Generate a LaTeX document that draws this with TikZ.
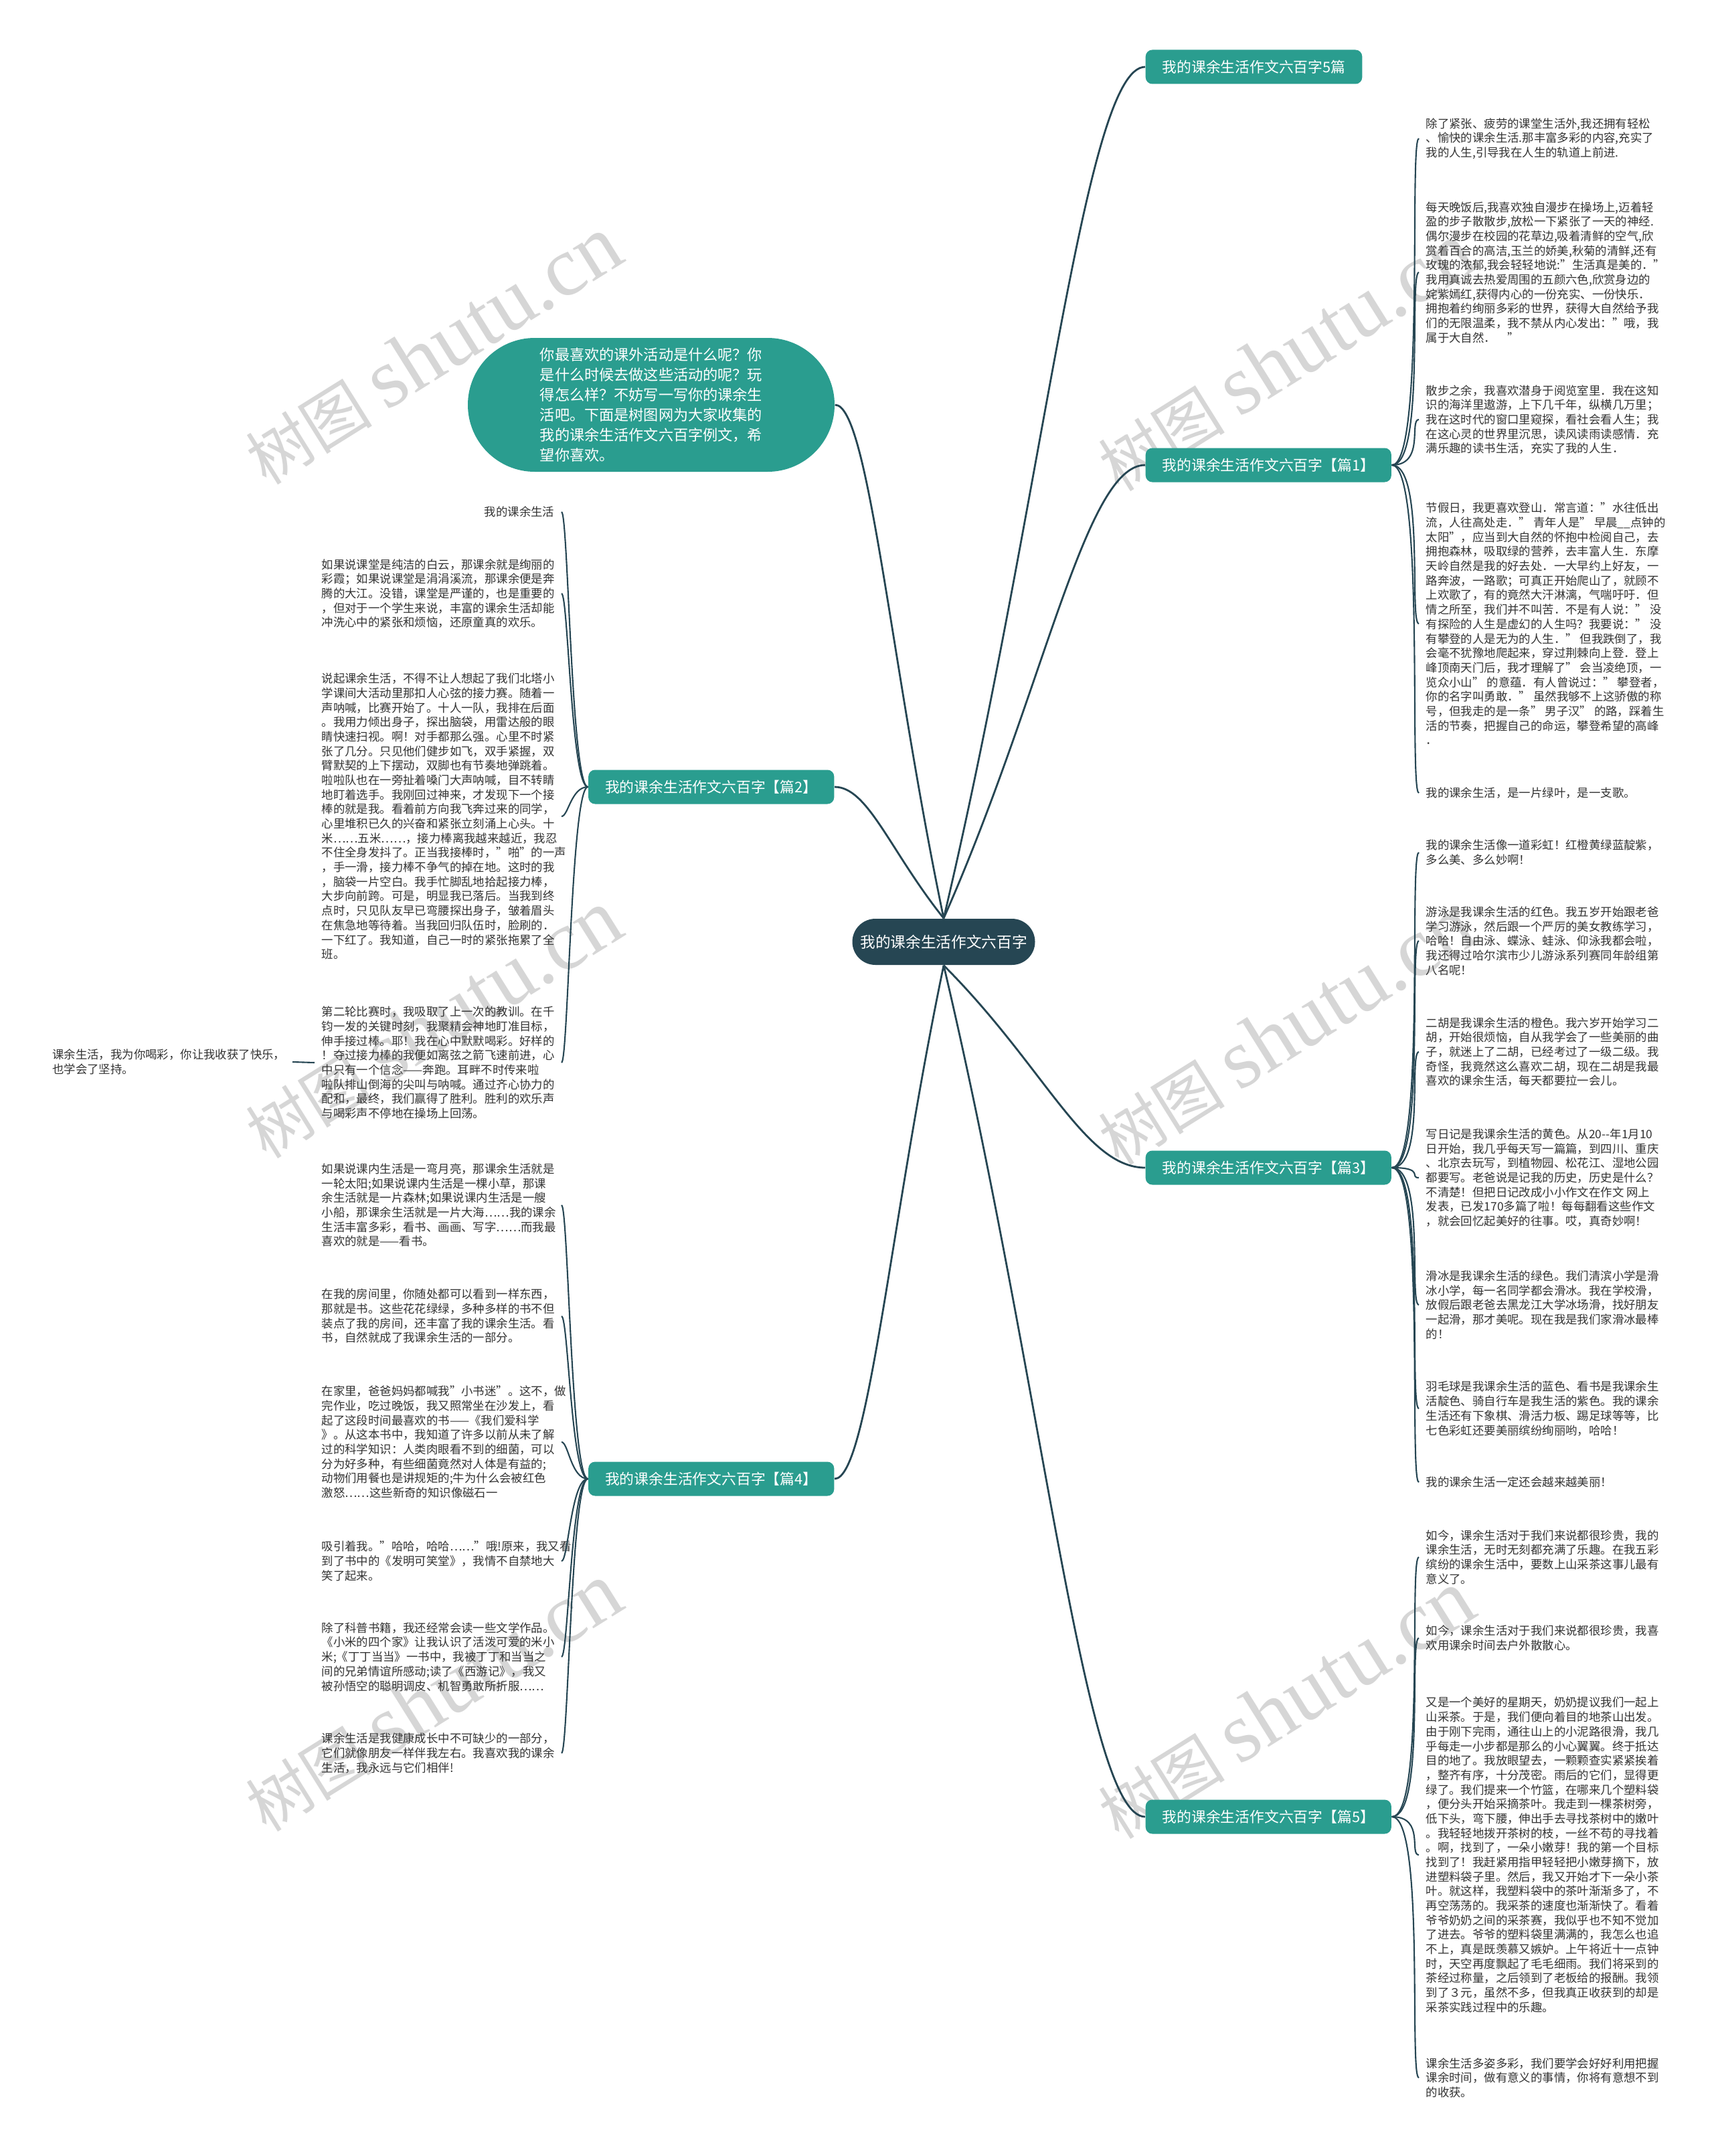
\documentclass[tikz,border=0pt]{standalone}
\usepackage{fontspec}
\setmainfont{Noto Sans CJK SC}
\newfontfamily\wmfont{Liberation Serif}
\usepackage{tikz}
\usetikzlibrary{positioning}
\definecolor{rootcol}{HTML}{264653}
\definecolor{teal}{HTML}{2A9D8F}
\definecolor{leafgray}{HTML}{333333}

\begin{document}
\begin{tikzpicture}[
  rootnode/.style={fill=rootcol, text=white, rounded corners=0.345cm, minimum width=2.73cm,
                   minimum height=0.69cm, inner sep=0pt, font=\fontsize{6.45}{7.5}\selectfont},
  branchnode/.style={fill=teal, text=white, rounded corners=0.1cm, minimum height=0.51cm,
                     inner xsep=0.25cm, inner ysep=0pt, font=\fontsize{6.2}{7}\selectfont},
  bubble/.style={fill=teal, text=white, rounded corners=1cm, minimum width=5.48cm,
                 minimum height=2cm, align=left, font=\fontsize{6.3}{8.5}\selectfont},
  leaf/.style={text=leafgray, inner xsep=0.1cm, inner ysep=0pt, align=left,
               font=\fontsize{4.95}{6.17}\selectfont},
  link/.style={draw=rootcol, line width=0.8pt},
  twig/.style={draw=rootcol, line width=0.6pt},
  wmark/.style={text=black!16, rotate=32},
]
\path[fill=white, use as bounding box] (0,0) rectangle (25.6,-32.22);

\foreach \x/\y in {6.47/5.24, 6.47/15.31, 6.47/25.37, 19.21/5.34, 19.21/15.41, 19.21/25.48}
  \node[wmark] at (\x,-\y) {\fontsize{27}{30}\selectfont 树图\ \wmfont\fontsize{36}{40}\selectfont shutu.cn};

\node[rootnode] (root) at (14.10,-14.075) {我的课余生活作文六百字};

\node[branchnode, anchor=west] (artall) at (17.11,-1.00) {我的课余生活作文六百字5篇};
\node[branchnode, anchor=west] (art1) at (17.11,-6.95) {我的课余生活作文六百字【篇1】};
\node[branchnode, anchor=west] (art3) at (17.11,-17.45) {我的课余生活作文六百字【篇3】};
\node[branchnode, anchor=west] (art5) at (17.11,-27.15) {我的课余生活作文六百字【篇5】};
\node[branchnode, anchor=east] (art2) at (12.47,-11.76) {我的课余生活作文六百字【篇2】};
\node[branchnode, anchor=east] (art4) at (12.47,-22.10) {我的课余生活作文六百字【篇4】};
\node[bubble] (intro) at (9.73,-6.05) {你最喜欢的课外活动是什么呢？你\\是什么时候去做这些活动的呢？玩\\得怎么样？不妨写一写你的课余生\\活吧。下面是树图网为大家收集的\\我的课余生活作文六百字例文，希\\望你喜欢。};

\draw[link] (root.north) .. controls +(1.5,6.36) and +(-0.9,0) .. (artall.west);
\draw[link] (root.north) .. controls +(1.5,3.39) and +(-0.9,0) .. (art1.west);
\draw[link] (root.south) .. controls +(1.5,-1.5) and +(-0.9,0) .. (art3.west);
\draw[link] (root.south) .. controls +(1.5,-6.36) and +(-0.9,0) .. (art5.west);
\draw[link] (root.north) .. controls +(-0.8,3.84) and +(0.5,0) .. (intro.east);
\draw[link] (root.north) .. controls +(-0.8,1.0) and +(0.5,0) .. (art2.east);
\draw[link] (root.south) .. controls +(-0.8,-3.84) and +(0.5,0) .. (art4.east);

% 篇1
\node[leaf, anchor=west] (p1a) at (21.20,-2.07) {除了紧张、疲劳的课堂生活外,我还拥有轻松\\、愉快的课余生活.那丰富多彩的内容,充实了\\我的人生,引导我在人生的轨道上前进.};
\node[leaf, anchor=west] (p1b) at (21.20,-4.07) {每天晚饭后,我喜欢独自漫步在操场上,迈着轻\\盈的步子散散步,放松一下紧张了一天的神经.\\偶尔漫步在校园的花草边,吸着清鲜的空气,欣\\赏着百合的高洁,玉兰的娇美,秋菊的清鲜,还有\\玫瑰的浓郁,我会轻轻地说:"生活真是美的．"\\我用真诚去热爱周围的五颜六色,欣赏身边的\\姹紫嫣红,获得内心的一份充实、一份快乐．\\拥抱着约绚丽多彩的世界，获得大自然给予我\\们的无限温柔，我不禁从内心发出："哦，我\\属于大自然．\quad"};
\node[leaf, anchor=west] (p1c) at (21.20,-6.27) {散步之余，我喜欢潜身于阅览室里．我在这知\\识的海洋里遨游，上下几千年，纵横几万里；\\我在这时代的窗口里窥探，看社会看人生；我\\在这心灵的世界里沉思，读风读雨读感情．充\\满乐趣的读书生活，充实了我的人生．};
\node[leaf, anchor=west] (p1d) at (21.20,-9.32) {节假日，我更喜欢登山．常言道："水往低出\\流，人往高处走．" 青年人是" 早晨\_\_点钟的\\太阳"，应当到大自然的怀抱中检阅自己，去\\拥抱森林，吸取绿的营养，去丰富人生．东摩\\天岭自然是我的好去处．一大早约上好友，一\\路奔波，一路歌；可真正开始爬山了，就顾不\\上欢歌了，有的竟然大汗淋漓，气喘吁吁．但\\情之所至，我们并不叫苦．不是有人说：" 没\\有探险的人生是虚幻的人生吗？我要说：" 没\\有攀登的人是无为的人生．" 但我跌倒了，我\\会毫不犹豫地爬起来，穿过荆棘向上登．登上\\峰顶南天门后，我才理解了" 会当凌绝顶，一\\览众小山" 的意蕴．有人曾说过：" 攀登者，\\你的名字叫勇敢．" 虽然我够不上这骄傲的称\\号，但我走的是一条" 男子汉" 的路，踩着生\\活的节奏，把握自己的命运，攀登希望的高峰\\．};
\node[leaf, anchor=west] (p1e) at (21.20,-11.85) {我的课余生活，是一片绿叶，是一支歌。};

% 篇3
\node[leaf, anchor=west] (p3a) at (21.20,-12.74) {我的课余生活像一道彩虹！红橙黄绿蓝靛紫，\\多么美、多么妙啊！};
\node[leaf, anchor=west] (p3b) at (21.20,-14.06) {游泳是我课余生活的红色。我五岁开始跟老爸\\学习游泳，然后跟一个严厉的美女教练学习，\\哈哈！自由泳、蝶泳、蛙泳、仰泳我都会啦，\\我还得过哈尔滨市少儿游泳系列赛同年龄组第\\八名呢！};
\node[leaf, anchor=west] (p3c) at (21.20,-15.72) {二胡是我课余生活的橙色。我六岁开始学习二\\胡，开始很烦恼，自从我学会了一些美丽的曲\\子，就迷上了二胡，已经考过了一级二级。我\\奇怪，我竟然这么喜欢二胡，现在二胡是我最\\喜欢的课余生活，每天都要拉一会儿。};
\node[leaf, anchor=west] (p3d) at (21.20,-17.60) {写日记是我课余生活的黄色。从20-{}-年1月10\\日开始，我几乎每天写一篇篇，到四川、重庆\\、北京去玩写，到植物园、松花江、湿地公园\\都要写。老爸说是记我的历史，历史是什么？\\不清楚！但把日记改成小小作文在作文 网上\\发表，已发170多篇了啦！每每翻看这些作文\\，就会回忆起美好的往事。哎，真奇妙啊！};
\node[leaf, anchor=west] (p3e) at (21.20,-19.50) {滑冰是我课余生活的绿色。我们清滨小学是滑\\冰小学，每一名同学都会滑冰。我在学校滑，\\放假后跟老爸去黑龙江大学冰场滑，找好朋友\\一起滑，那才美呢。现在我是我们家滑冰最棒\\的！};
\node[leaf, anchor=west] (p3f) at (21.20,-21.05) {羽毛球是我课余生活的蓝色、看书是我课余生\\活靛色、骑自行车是我生活的紫色。我的课余\\生活还有下象棋、滑活力板、踢足球等等，比\\七色彩虹还要美丽缤纷绚丽哟，哈哈！};
\node[leaf, anchor=west] (p3g) at (21.20,-22.15) {我的课余生活一定还会越来越美丽！};

% 篇5
\node[leaf, anchor=west] (p5a) at (21.20,-23.27) {如今，课余生活对于我们来说都很珍贵，我的\\课余生活，无时无刻都充满了乐趣。在我五彩\\缤纷的课余生活中，要数上山采茶这事儿最有\\意义了。};
\node[leaf, anchor=west] (p5b) at (21.20,-24.48) {如今，课余生活对于我们来说都很珍贵，我喜\\欢用课余时间去户外散散心。};
\node[leaf, anchor=west] (p5c) at (21.20,-27.72) {又是一个美好的星期天，奶奶提议我们一起上\\山采茶。于是，我们便向着目的地茶山出发。\\由于刚下完雨，通往山上的小泥路很滑，我几\\乎每走一小步都是那么的小心翼翼。终于抵达\\目的地了。我放眼望去，一颗颗查实紧紧挨着\\，整齐有序，十分茂密。雨后的它们，显得更\\绿了。我们提来一个竹篮，在哪来几个塑料袋\\，便分头开始采摘茶叶。我走到一棵茶树旁，\\低下头，弯下腰，伸出手去寻找茶树中的嫩叶\\。我轻轻地拨开茶树的枝，一丝不苟的寻找着\\。啊，找到了，一朵小嫩芽！我的第一个目标\\找到了！我赶紧用指甲轻轻把小嫩芽摘下，放\\进塑料袋子里。然后，我又开始才下一朵小茶\\叶。就这样，我塑料袋中的茶叶渐渐多了，不\\再空荡荡的。我采茶的速度也渐渐快了。看着\\爷爷奶奶之间的采茶赛，我似乎也不知不觉加\\了进去。爷爷的塑料袋里满满的，我怎么也追\\不上，真是既羡慕又嫉妒。上午将近十一点钟\\时，天空再度飘起了毛毛细雨。我们将采到的\\茶经过称量，之后领到了老板给的报酬。我领\\到了３元，虽然不多，但我真正收获到的却是\\采茶实践过程中的乐趣。};
\node[leaf, anchor=west] (p5d) at (21.20,-31.05) {课余生活多姿多彩，我们要学会好好利用把握\\课余时间，做有意义的事情，你将有意想不到\\的收获。};

% 篇2
\coordinate (lend) at (8.39,0);
\node[leaf, anchor=east, align=right] (q2a) at (8.39,-7.65) {我的课余生活};
\node[leaf, anchor=west] (q2b) at (4.70,-8.87) {如果说课堂是纯洁的白云，那课余就是绚丽的\\彩霞；如果说课堂是涓涓溪流，那课余便是奔\\腾的大江。没错，课堂是严谨的，也是重要的\\，但对于一个学生来说，丰富的课余生活却能\\冲洗心中的紧张和烦恼，还原童真的欢乐。};
\node[leaf, anchor=west] (q2c) at (4.70,-12.20) {说起课余生活，不得不让人想起了我们北塔小\\学课间大活动里那扣人心弦的接力赛。随着一\\声呐喊，比赛开始了。十人一队，我排在后面\\。我用力倾出身子，探出脑袋，用雷达般的眼\\睛快速扫视。啊！对手都那么强。心里不时紧\\张了几分。只见他们健步如飞，双手紧握，双\\臂默契的上下摆动，双脚也有节奏地弹跳着。\\啦啦队也在一旁扯着嗓门大声呐喊，目不转睛\\地盯着选手。我刚回过神来，才发现下一个接\\棒的就是我。看着前方向我飞奔过来的同学，\\心里堆积已久的兴奋和紧张立刻涌上心头。十\\米……五米……，接力棒离我越来越近，我忍\\不住全身发抖了。正当我接棒时，"啪"的一声\\，手一滑，接力棒不争气的掉在地。这时的我\\，脑袋一片空白。我手忙脚乱地拾起接力棒，\\大步向前跨。可是，明显我已落后。当我到终\\点时，只见队友早已弯腰探出身子，皱着眉头\\在焦急地等待着。当我回归队伍时，脸刷的．\\一下红了。我知道，自己一时的紧张拖累了全\\班。};
\node[leaf, anchor=west] (q2d) at (4.70,-15.88) {第二轮比赛时，我吸取了上一次的教训。在千\\钧一发的关键时刻，我聚精会神地盯准目标，\\伸手接过棒。耶！我在心中默默喝彩。好样的\\！夺过接力棒的我便如离弦之箭飞速前进，心\\中只有一个信念——奔跑。耳畔不时传来啦\\啦队排山倒海的尖叫与呐喊。通过齐心协力的\\配和，最终，我们赢得了胜利。胜利的欢乐声\\与喝彩声不停地在操场上回荡。};
\node[leaf, anchor=east] (q2e) at (4.37,-15.87) {课余生活，我为你喝彩，你让我收获了快乐，\\也学会了坚持。};

% 篇4
\node[leaf, anchor=west] (q4a) at (4.70,-18.01) {如果说课内生活是一弯月亮，那课余生活就是\\一轮太阳;如果说课内生活是一棵小草，那课\\余生活就是一片森林;如果说课内生活是一艘\\小船，那课余生活就是一片大海……我的课余\\生活丰富多彩，看书、画画、写字……而我最\\喜欢的就是——看书。};
\node[leaf, anchor=west] (q4b) at (4.70,-19.67) {在我的房间里，你随处都可以看到一样东西，\\那就是书。这些花花绿绿，多种多样的书不但\\装点了我的房间，还丰富了我的课余生活。看\\书，自然就成了我课余生活的一部分。};
\node[leaf, anchor=west] (q4c) at (4.70,-21.55) {在家里，爸爸妈妈都喊我"小书迷"。这不，做\\完作业，吃过晚饭，我又照常坐在沙发上，看\\起了这段时间最喜欢的书——《我们爱科学\\》。从这本书中，我知道了许多以前从未了解\\过的科学知识：人类肉眼看不到的细菌，可以\\分为好多种，有些细菌竟然对人体是有益的;\\动物们用餐也是讲规矩的;牛为什么会被红色\\激怒……这些新奇的知识像磁石一};
\node[leaf, anchor=west] (q4d) at (4.70,-23.33) {吸引着我。"哈哈，哈哈……"哦!原来，我又看\\到了书中的《发明可笑堂》，我情不自禁地大\\笑了起来。};
\node[leaf, anchor=west] (q4e) at (4.70,-24.76) {除了科普书籍，我还经常会读一些文学作品。\\《小米的四个家》让我认识了活泼可爱的米小\\米;《丁丁当当》一书中，我被丁丁和当当之\\间的兄弟情谊所感动;读了《西游记》，我又\\被孙悟空的聪明调皮、机智勇敢所折服……};
\node[leaf, anchor=west] (q4f) at (4.70,-26.20) {课余生活是我健康成长中不可缺少的一部分，\\它们就像朋友一样伴我左右。我喜欢我的课余\\生活，我永远与它们相伴!};

\foreach \n in {p1a,p1b,p1c,p1d,p1e}
  \draw[twig] (art1.east) .. controls +(0.5,0) and +(-0.15,0) .. (\n.west);
\foreach \n in {p3a,p3b,p3c,p3d,p3e,p3f,p3g}
  \draw[twig] (art3.east) .. controls +(0.5,0) and +(-0.15,0) .. (\n.west);
\foreach \n in {p5a,p5b,p5c,p5d}
  \draw[twig] (art5.east) .. controls +(0.5,0) and +(-0.15,0) .. (\n.west);
\foreach \n in {q2a,q2b,q2c,q2d}
  \draw[twig] (art2.west) .. controls +(-0.25,0) and +(0.1,0) .. (lend |- \n.east);
\foreach \n in {q4a,q4b,q4c,q4d,q4e,q4f}
  \draw[twig] (art4.west) .. controls +(-0.25,0) and +(0.1,0) .. (lend |- \n.east);
\draw[twig] (q2d.west) -- (q2e.east);
\end{tikzpicture}
\end{document}
